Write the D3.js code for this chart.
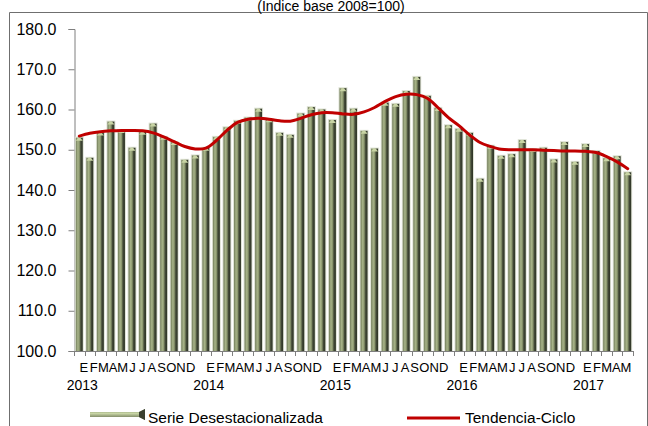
<!DOCTYPE html>
<html>
<head>
<meta charset="utf-8">
<script src="https://cdn.jsdelivr.net/npm/d3@7"></script>
<style>
  body { margin: 0; background: #fff; }
  svg { display: block; }
</style>
</head>
<body>
<div id="chart"></div>
<script>
// data
var years = [2013, 2014, 2015, 2016, 2017]
var monthLetters = ['E', 'F', 'M', 'A', 'M', 'J', 'J', 'A', 'S', 'O', 'N', 'D']

var serie = [
  153.0, 148.0, 154.3, 157.0, 154.9, 150.5, 154.5, 156.5, 153.2, 151.9, 147.5, 148.6,
  150.5, 153.2, 155.6, 157.2, 158.0, 160.2, 157.6, 154.2, 153.7, 159.0, 160.6, 160.0,
  157.4, 165.3, 160.2, 154.7, 150.3, 161.7, 161.4, 164.6, 168.1, 163.4, 160.4, 156.1,
  155.2, 154.2, 142.8, 151.0, 148.5, 148.9, 152.4, 150.2, 150.5, 147.6, 151.9, 147.0,
  151.4, 149.7, 147.9, 148.4, 144.4
]

var tendencia = [
  153.4, 154.1, 154.5, 154.7, 154.8, 154.8, 154.7, 154.2, 153.2, 152.0, 150.8, 150.2,
  150.4, 152.3, 154.8, 156.8, 157.6, 157.8, 157.6, 157.2, 157.1, 157.8, 158.7, 159.2,
  159.2, 158.9, 158.8, 159.4, 160.5, 162.0, 163.2, 163.8, 163.7, 162.8, 160.5, 158.0,
  156.0, 153.7, 151.8, 150.8, 150.1, 150.0, 150.0, 150.0, 149.9, 149.8, 149.7, 149.7,
  149.6, 149.3, 148.3, 147.0, 145.3
]

var yTicks = [100, 110, 120, 130, 140, 150, 160, 170, 180]

// one label per bar: month letter, and the year under January
var periods = serie.map(function(d, i) {
  return { i: i, month: monthLetters[i % 12], year: years[Math.floor(i / 12)] }
})

var width = 648
var height = 426
var margin = { top: 29, left: 74, right: 15, bottom: 75 }
var font = 'Liberation Sans, Arial, sans-serif'

var svg = d3.select('#chart')
  .append('svg')
  .attr('width', width)
  .attr('height', height)

var defs = svg.append('defs')
var grad = defs.append('linearGradient')
  .attr('id', 'barGrad')
  .attr('x1', '0%').attr('x2', '100%').attr('y1', '0%').attr('y2', '0%')
grad.append('stop').attr('offset', '0%').attr('stop-color', '#727d5a')
grad.append('stop').attr('offset', '30%').attr('stop-color', '#a7b388')
grad.append('stop').attr('offset', '50%').attr('stop-color', '#8e9a70')
grad.append('stop').attr('offset', '72%').attr('stop-color', '#434a37')
grad.append('stop').attr('offset', '100%').attr('stop-color', '#2c3224')

var legGrad = defs.append('linearGradient')
  .attr('id', 'legGrad')
  .attr('x1', '0%').attr('x2', '0%').attr('y1', '0%').attr('y2', '100%')
legGrad.append('stop').attr('offset', '0%').attr('stop-color', '#6f7a57')
legGrad.append('stop').attr('offset', '40%').attr('stop-color', '#c9d6a6')
legGrad.append('stop').attr('offset', '100%').attr('stop-color', '#4a5238')

// outer frame
svg.append('path')
  .attr('d', 'M9.5,' + height + 'V12.5H' + (width - 0.5) + 'V' + height)
  .attr('fill', 'none')
  .attr('stroke', '#6f6f6f')
  .attr('stroke-width', 1)

svg.append('text')
  .attr('x', 331)
  .attr('y', 10.5)
  .attr('text-anchor', 'middle')
  .attr('font-family', font)
  .attr('font-size', 14)
  .attr('fill', '#000')
  .text('(Índice base 2008=100)')

var x = d3.scaleBand()
  .domain(d3.range(serie.length))
  .range([margin.left, width - margin.right])
  .paddingInner(0)
  .paddingOuter(0)

var y = d3.scaleLinear()
  .domain([100, 180])
  .range([height - margin.bottom, margin.top])

// y axis
var yAxis = d3.axisLeft(y)
  .tickValues(yTicks)
  .tickSize(6)
  .tickPadding(12)
  .tickFormat(d3.format('.1f'))

var gy = svg.append('g')
  .attr('transform', 'translate(' + (margin.left + 0.5) + ',0)')
  .call(yAxis)
gy.select('.domain').attr('stroke', '#7f7f7f')
gy.selectAll('.tick line').attr('stroke', '#7f7f7f')
gy.selectAll('.tick text')
  .attr('font-family', font)
  .attr('font-size', 16)
  .attr('fill', '#000')

// bars
var barW = x.bandwidth() * 0.66
var bars = svg.append('g')
bars.selectAll('rect.halo')
  .data(serie)
  .enter()
  .append('rect')
  .attr('class', 'halo')
  .attr('x', function(d, i) { return x(i) + (x.bandwidth() - barW) / 2 - 1 })
  .attr('y', function(d) { return y(d) - 1 })
  .attr('width', barW + 2)
  .attr('height', function(d) { return y(100) - y(d) + 1 })
  .attr('fill', '#dfe3d6')
bars.selectAll('rect.bar')
  .data(serie)
  .enter()
  .append('rect')
  .attr('class', 'bar')
  .attr('x', function(d, i) { return x(i) + (x.bandwidth() - barW) / 2 })
  .attr('y', function(d) { return y(d) })
  .attr('width', barW)
  .attr('height', function(d) { return y(100) - y(d) })
  .attr('fill', 'url(#barGrad)')
bars.selectAll('path.cap')
  .data(serie)
  .enter()
  .append('path')
  .attr('class', 'cap')
  .attr('d', function(d, i) {
    var x0 = x(i) + (x.bandwidth() - barW) / 2
    var y0 = y(d)
    return 'M' + x0 + ',' + (y0 + 3) + 'L' + (x0 + barW * 0.35) + ',' + y0 +
      'L' + (x0 + barW * 0.65) + ',' + y0 + 'L' + (x0 + barW) + ',' + (y0 + 3) + 'Z'
  })
  .attr('fill', '#c8d4a4')

// x axis
var baseY = y(100)
var gx = svg.append('g')
gx.append('line')
  .attr('x1', margin.left)
  .attr('x2', width - margin.right)
  .attr('y1', baseY + 0.5)
  .attr('y2', baseY + 0.5)
  .attr('stroke', '#7f7f7f')
gx.selectAll('line.tick')
  .data(d3.range(serie.length + 1))
  .enter()
  .append('line')
  .attr('class', 'tick')
  .attr('x1', function(i) { return Math.round(margin.left + i * x.step()) + 0.5 })
  .attr('x2', function(i) { return Math.round(margin.left + i * x.step()) + 0.5 })
  .attr('y1', baseY)
  .attr('y2', baseY + 5)
  .attr('stroke', '#7f7f7f')
gx.selectAll('text.month')
  .data(periods)
  .enter()
  .append('text')
  .attr('class', 'month')
  .attr('x', function(d) {
    // letters sit a little tighter than the bars, as in the original
    var k = Math.floor(d.i / 12)
    var n = Math.min(12, serie.length - k * 12)
    var mid = x(k * 12) + n * x.step() / 2
    var c = x(d.i) + x.bandwidth() / 2
    return mid + (c - mid) * 0.92
  })
  .attr('y', baseY + 21)
  .attr('text-anchor', 'middle')
  .attr('font-family', font)
  .attr('font-size', 13)
  .attr('fill', '#000')
  .text(function(d) { return d.month })
gx.selectAll('text.year')
  .data(periods.filter(function(d) { return d.i % 12 === 0 }))
  .enter()
  .append('text')
  .attr('class', 'year')
  .attr('x', function(d) { return x(d.i) + x.bandwidth() / 2 + 3 })
  .attr('y', baseY + 39)
  .attr('text-anchor', 'middle')
  .attr('font-family', font)
  .attr('font-size', 14)
  .attr('fill', '#000')
  .text(function(d) { return d.year })

// trend line
var line = d3.line()
  .x(function(d, i) { return x(i) + x.bandwidth() / 2 })
  .y(function(d) { return y(d) })
  .curve(d3.curveCatmullRom)

svg.append('path')
  .datum(tendencia)
  .attr('d', line)
  .attr('fill', 'none')
  .attr('stroke', '#c00000')
  .attr('stroke-width', 3)
  .attr('stroke-linecap', 'round')

// legend
var leg = svg.append('g')
leg.append('path')
  .attr('d', 'M90,412H139L145,409V420L139,417H90Z')
  .attr('fill', 'url(#legGrad)')
leg.append('path')
  .attr('d', 'M139,412L145,409V420L139,417Z')
  .attr('fill', '#3a4030')
leg.append('text')
  .attr('x', 148)
  .attr('y', 423)
  .attr('font-family', font)
  .attr('font-size', 15.5)
  .attr('fill', '#000')
  .text('Serie Desestacionalizada')
leg.append('line')
  .attr('x1', 407)
  .attr('x2', 460)
  .attr('y1', 418)
  .attr('y2', 418)
  .attr('stroke', '#c00000')
  .attr('stroke-width', 3)
leg.append('text')
  .attr('x', 465)
  .attr('y', 423)
  .attr('font-family', font)
  .attr('font-size', 15.5)
  .attr('fill', '#000')
  .text('Tendencia-Ciclo')
</script>
</body>
</html>
